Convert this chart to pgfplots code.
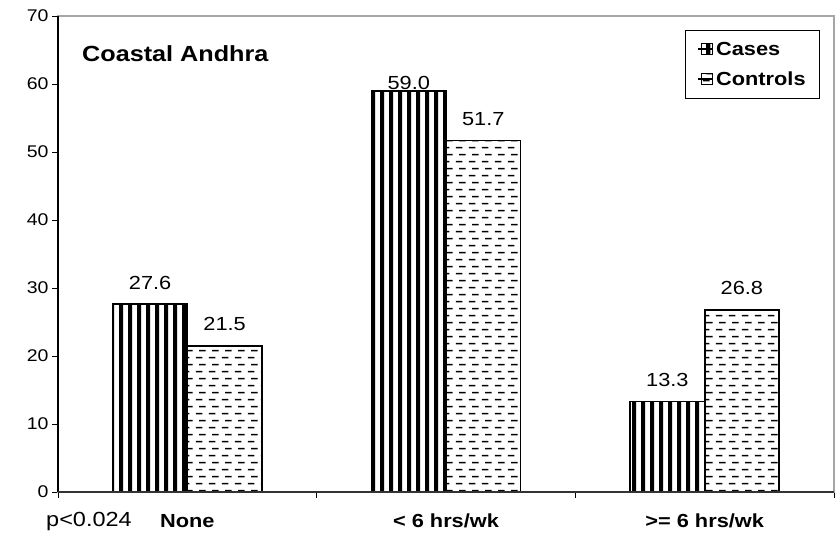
\documentclass[border=0pt]{standalone}
\usepackage{pgfplots}
\pgfplotsset{compat=1.18}
\usepackage{pgfplotstable}
\usepackage{fontspec}
\setmainfont{Liberation Sans}[FakeStretch=1.15]
\usetikzlibrary{patterns}

% vertical bars for Cases, dashed rows for Controls
\pgfdeclarepatternformonly{vbars}{\pgfpointorigin}{\pgfqpoint{8.5bp}{500bp}}{\pgfqpoint{8.5bp}{500bp}}{%
  \pgfpathrectangle{\pgfpointorigin}{\pgfqpoint{4.3bp}{500bp}}\pgfusepath{fill}}
\pgfdeclarepatternformonly{hdash}{\pgfpointorigin}{\pgfqpoint{13bp}{14.4bp}}{\pgfqpoint{13bp}{14.4bp}}{%
  \pgfsetlinewidth{1.6bp}%
  \pgfpathmoveto{\pgfqpoint{1bp}{3.6bp}}\pgfpathlineto{\pgfqpoint{8bp}{3.6bp}}%
  \pgfpathmoveto{\pgfqpoint{4.5bp}{10.8bp}}\pgfpathlineto{\pgfqpoint{11.5bp}{10.8bp}}%
  \pgfusepath{stroke}}

\pgfplotstableread{
x y s
0 27.6 14
1 59.0 0
2 13.3 14
}\datacases
\pgfplotstableread{
x y s
0 21.5 14
1 51.7 14
2 26.8 14
}\datacontrols

\newcommand\fs[1]{\fontsize{#1}{#1}\selectfont}

\begin{document}
\begin{tikzpicture}
\begin{axis}[
    width=776bp, height=476bp, scale only axis,
    xmin=-0.5, xmax=2.5, ymin=0, ymax=70,
    ytick={0,10,...,70},
    xtick={0,1,2},
    xticklabels={None,{< 6 hrs/wk},{>= 6 hrs/wk}},
    minor xtick={-0.5,0.5,1.5,2.5},
    major x tick style={draw=none},
    tick align=outside, tick pos=left,
    major tick length=6bp, minor tick length=6bp,
    tick style={black, line width=0.8bp},
    axis line style={gray!70, line width=1.2bp},
    y tick label style={font=\fs{17}},
    x tick label style={font=\bfseries\fs{19}, anchor=north, inner sep=0pt, yshift=-16bp},
    /pgf/number format/assume math mode=true,
    clip=false,
    legend cell align=left,
    legend style={at={(rel axis cs:0.982,0.9706)}, anchor=north east,
        draw=black, line width=0.8bp, font=\bfseries\fs{19},
        inner xsep=12bp, inner ysep=9.5bp, row sep=11bp,
        /tikz/every even column/.append style={column sep=3bp}},
    legend image code/.code={\path (-3bp,0bp) -- (12bp,0bp);
        \draw[#1, line width=1bp] (0bp,-5.5bp) rectangle (11bp,5.5bp);},
    nodes near coords={\pgfmathprintnumber[fixed,fixed zerofill,precision=1]{\pgfplotspointmeta}},
    visualization depends on={\thisrow{s} \as \myshift},
    nodes near coords style={anchor=south, inner sep=0pt, font=\fs{19}, yshift=\myshift bp},
]
\addplot[ybar, bar width=0.288, bar shift=0, draw=black, line width=1.8bp,
    pattern=vbars, pattern color=black] table[x expr=\thisrow{x}-0.144, y=y] {\datacases};
\addlegendentry{Cases}
\addplot[ybar, bar width=0.288, bar shift=0, draw=black, line width=1.8bp,
    pattern=hdash, pattern color=black] table[x expr=\thisrow{x}+0.144, y=y] {\datacontrols};
\addlegendentry{Controls}

\draw[black, line width=1.2bp] (rel axis cs:0,0) -- (rel axis cs:0,1);
\draw[gray!40!black, line width=1.2bp] (rel axis cs:0,0) -- (rel axis cs:1,0);
\node[anchor=base west, font=\bfseries\fs{22}, inner sep=0pt]
    at ([xshift=24bp, yshift=-45.5bp]rel axis cs:0,1) {Coastal Andhra};
\node[anchor=base, font=\fs{20.5}, inner sep=0pt]
    at ([xshift=31bp, yshift=-34bp]rel axis cs:0,0) {p<0.024};
\path (rel axis cs:0,0) ++(-58bp,-52bp) rectangle ++(836bp,544bp);
\end{axis}
\end{tikzpicture}
\end{document}
